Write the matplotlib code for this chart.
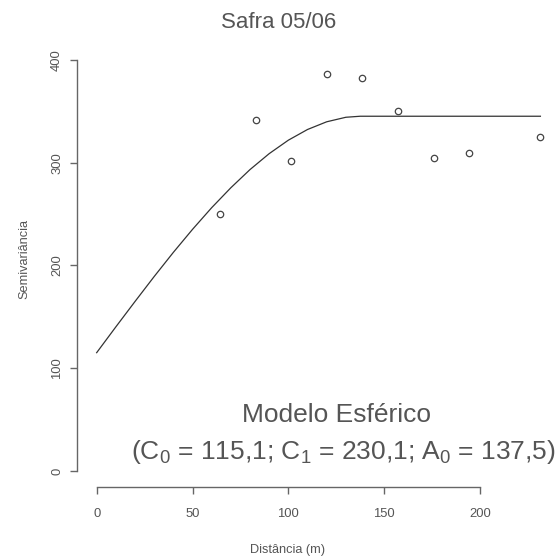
import matplotlib
matplotlib.use('Agg')
import matplotlib.pyplot as plt

plt.rcParams['font.family'] = ['Liberation Sans', 'DejaVu Sans']
plt.rcParams['mathtext.fontset'] = 'custom'
plt.rcParams['mathtext.rm'] = 'Liberation Sans'
plt.rcParams['mathtext.it'] = 'Liberation Sans'

dist = [64.3, 83.1, 101.5, 120.0, 138.6, 157.2, 175.8, 194.4, 231.5]
semivar = [249.8, 341.6, 302.0, 386.1, 382.2, 350.1, 304.3, 309.5, 324.8]

# fitted spherical model line
model_x = [0, 10, 20, 30, 40, 50, 60, 70, 80, 90, 100, 110, 120, 130, 137.5, 231.5]
model_y = [115.1, 140.2, 164.9, 189.2, 212.7, 235.1, 256.2, 275.6, 293.3,
           308.8, 321.9, 332.3, 339.8, 344.2, 345.2, 345.2]

xticks = [0, 50, 100, 150, 200]
yticks = [0, 100, 200, 300, 400]

txt = '#555555'
axc = '#666666'

fig = plt.figure(figsize=(5.59, 5.59), dpi=100)
ax = fig.add_axes([0.1383, 0.1283, 0.8617, 0.7882])

ax.plot(model_x, model_y, color='#333333', lw=0.9)
ax.plot(dist, semivar, 'o', mfc='none', mec='#444444', ms=4.6, mew=0.9)

ax.set_xlim(-10.1, 241.2)
ax.set_ylim(-15.9, 412.9)

for s in ['top', 'right']:
    ax.spines[s].set_visible(False)
ax.spines['left'].set_bounds(0, 400)
ax.spines['bottom'].set_bounds(0, 200)
for s in ['left', 'bottom']:
    ax.spines[s].set_color(axc)
    ax.spines[s].set_linewidth(1.0)

ax.set_xticks(xticks)
ax.set_yticks(yticks)
ax.tick_params(direction='out', length=5.2, width=1.0, color=axc,
               labelcolor=txt, labelsize=9.4)
ax.tick_params(axis='x', pad=10)
ax.tick_params(axis='y', pad=5)
plt.setp(ax.get_yticklabels(), rotation=90, va='center')

fig.text(279 / 559, 1 - 23 / 559, 'Safra 05/06', ha='center', va='center',
         fontsize=16, color=txt)
fig.text(24 / 559, 1 - 259 / 559, 'Semivariância', rotation=90,
         ha='center', va='center', fontsize=9.2, color=txt)
fig.text(288 / 559, 1 - 550 / 559, 'Distância (m)', ha='center',
         va='center', fontsize=9.2, color=txt)

fig.text(336.7 / 559, 1 - 415 / 559, 'Modelo Esférico', ha='center',
         va='center', fontsize=19, color=txt)
fig.text(343 / 559, 1 - 452 / 559,
         '(C$_0$ = 115,1; C$_1$ = 230,1; A$_0$ = 137,5)',
         ha='center', va='center', fontsize=19, color=txt)

fig.savefig('out.png', dpi=100)
